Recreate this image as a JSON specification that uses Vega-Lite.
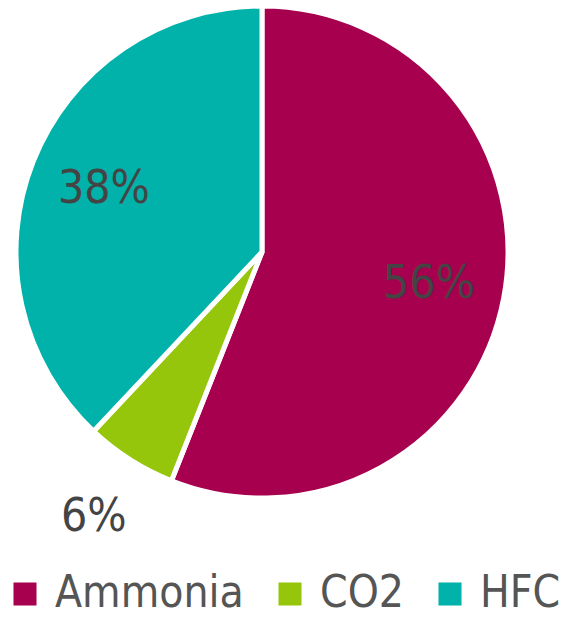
{
  "$schema": "https://vega.github.io/schema/vega-lite/v6.json",
  "width": 524,
  "height": 504,
  "padding": {"left": 0, "top": 0, "right": 50, "bottom": 113},
  "autosize": {"type": "none"},
  "background": "white",
  "data": {"values": [
    {"refrigerant": "Ammonia", "share": 56, "label": "56%", "ord": 1},
    {"refrigerant": "CO2", "share": 6, "label": "6%", "ord": 2},
    {"refrigerant": "HFC", "share": 38, "label": "38%", "ord": 3}
  ]},
  "encoding": {
    "theta": {"field": "share", "type": "quantitative", "stack": true},
    "order": {"field": "ord", "type": "ordinal"},
    "color": {
      "field": "refrigerant", "type": "nominal",
      "scale": {"domain": ["Ammonia", "CO2", "HFC"], "range": ["#A6004E", "#95C60C", "#00B2AA"]},
      "legend": {
        "title": null, "orient": "none", "legendX": 3, "legendY": 572, "direction": "horizontal",
        "symbolType": "square", "symbolSize": 530, "symbolStrokeWidth": 0,
        "labelFontSize": 44, "labelFont": "DejaVu Sans Condensed", "labelColor": "#555555",
        "labelLimit": 400, "labelOffset": 8, "columnPadding": 24, "symbolOpacity": 1
      }
    }
  },
  "layer": [
    {"mark": {"type": "arc", "outerRadius": 246, "stroke": "white", "strokeWidth": 5}},
    {
      "mark": {"type": "text", "radius": 170, "fontSize": 46, "font": "DejaVu Sans Condensed", "fill": "#444444"},
      "encoding": {
        "text": {"field": "label"},
        "opacity": {"condition": {"test": "datum.refrigerant !== 'CO2'", "value": 1}, "value": 0},
        "color": {"value": "#444444"}
      }
    },
    {
      "mark": {"type": "text", "radius": 314, "fontSize": 46, "font": "DejaVu Sans Condensed", "fill": "#444444"},
      "encoding": {
        "text": {"field": "label"},
        "opacity": {"condition": {"test": "datum.refrigerant === 'CO2'", "value": 1}, "value": 0},
        "color": {"value": "#444444"}
      }
    }
  ],
  "config": {"view": {"stroke": null}}
}
